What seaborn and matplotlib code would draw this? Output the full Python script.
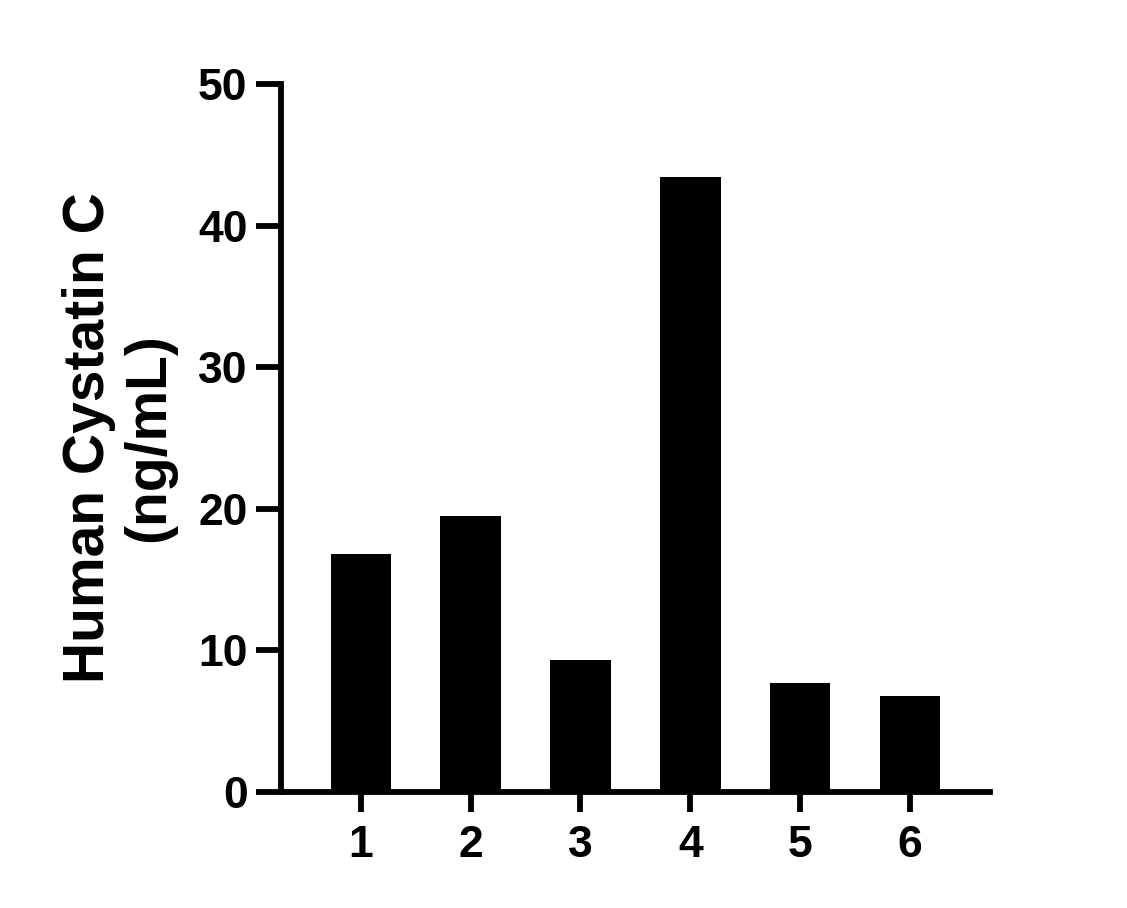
import matplotlib
matplotlib.use("Agg")
import matplotlib.pyplot as plt
import seaborn as sns
import pandas as pd

categories = ["1", "2", "3", "4", "5", "6"]
values = [16.8, 19.5, 9.3, 43.4, 7.7, 6.8]
y_ticks = [0, 10, 20, 30, 40, 50]
y_label = "Human Cystatin C\n(ng/mL)"

sns.set_theme(style="ticks")
plt.rcParams['font.family'] = ['Liberation Sans', 'DejaVu Sans']
plt.rcParams['font.weight'] = 'bold'

df = pd.DataFrame({"sample": categories, "value": values})

fig = plt.figure(figsize=(11.27, 9.08), dpi=100)
ax = fig.add_axes([0.2493, 0.1278, 0.629, 0.7797])
sns.barplot(data=df, x="sample", y="value", order=categories, color="black",
            saturation=1, width=0.55, ax=ax, edgecolor="none")

ax.set_xlim(-0.727, 5.727)
ax.set_ylim(0, 50)
ax.set_yticks(y_ticks)
ax.set_yticklabels([str(t) for t in y_ticks])
ax.set_xlabel("")
ax.set_ylabel(y_label, fontsize=41, fontweight='bold', labelpad=16,
              linespacing=1.15, color="black")

for s in ["top", "right"]:
    ax.spines[s].set_visible(False)
for s in ["left", "bottom"]:
    ax.spines[s].set_linewidth(4.2)
    ax.spines[s].set_color("black")

ax.tick_params(axis="y", length=18, width=4.2, pad=6, labelsize=32, colors="black")
ax.tick_params(axis="x", length=14.5, width=4.2, pad=9, labelsize=32, colors="black")
for lab in ax.get_xticklabels() + ax.get_yticklabels():
    lab.set_fontweight('bold')

fig.savefig("out.png", dpi=100, facecolor="white")
